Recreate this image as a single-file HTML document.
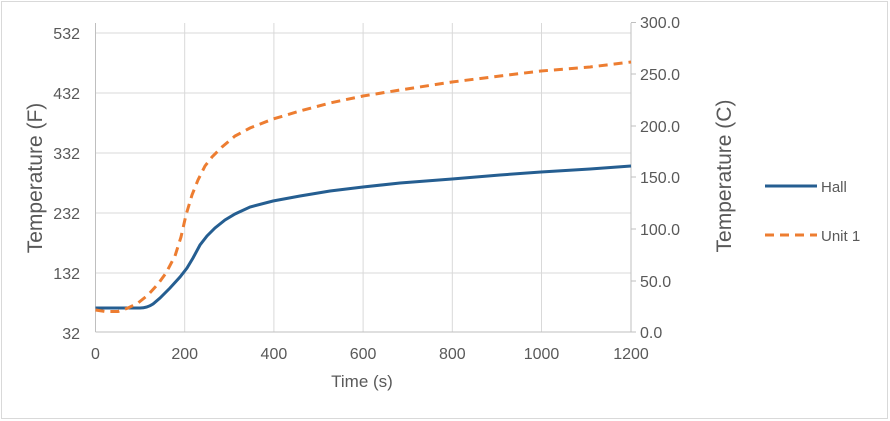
<!DOCTYPE html>
<html><head><style>body{margin:0;background:#fff}svg{display:block;font-family:"Liberation Sans",sans-serif}</style></head><body>
<svg width="890" height="421" viewBox="0 0 890 421">
<rect x="1.5" y="1.5" width="886" height="417" fill="#fff" stroke="#d9d9d9"/>
<g stroke="#d9d9d9" stroke-width="1">
<line x1="95.5" y1="33" x2="631" y2="33"/><line x1="95.5" y1="93" x2="631" y2="93"/><line x1="95.5" y1="153" x2="631" y2="153"/><line x1="95.5" y1="213" x2="631" y2="213"/><line x1="95.5" y1="273" x2="631" y2="273"/>
<line x1="184.7" y1="23" x2="184.7" y2="332"/><line x1="273.9" y1="23" x2="273.9" y2="332"/><line x1="363.1" y1="23" x2="363.1" y2="332"/><line x1="452.3" y1="23" x2="452.3" y2="332"/><line x1="541.5" y1="23" x2="541.5" y2="332"/>
</g>
<g stroke="#bfbfbf" stroke-width="1">
<line x1="95.5" y1="23" x2="95.5" y2="332"/><line x1="631" y1="23" x2="631" y2="332"/><line x1="95.5" y1="332" x2="631" y2="332"/>
<line x1="631" y1="22.5" x2="636" y2="22.5"/><line x1="631" y1="74" x2="636" y2="74"/><line x1="631" y1="126" x2="636" y2="126"/><line x1="631" y1="177" x2="636" y2="177"/><line x1="631" y1="229" x2="636" y2="229"/><line x1="631" y1="281" x2="636" y2="281"/><line x1="631" y1="332" x2="636" y2="332"/>
</g>
<g fill="#595959" font-size="16">
<g text-anchor="end"><text x="80" y="39">532</text><text x="80" y="99">432</text><text x="80" y="159">332</text><text x="80" y="219">232</text><text x="80" y="279">132</text><text x="80" y="339">32</text></g>
<g text-anchor="start"><text x="640" y="28">300.0</text><text x="640" y="80">250.0</text><text x="640" y="132">200.0</text><text x="640" y="183">150.0</text><text x="640" y="235">100.0</text><text x="640" y="287">50.0</text><text x="640" y="338">0.0</text></g>
<g text-anchor="middle"><text x="95.5" y="359">0</text><text x="184.7" y="359">200</text><text x="273.9" y="359">400</text><text x="363.1" y="359">600</text><text x="452.3" y="359">800</text><text x="541.5" y="359">1000</text><text x="631" y="359">1200</text></g>
<text x="362" y="387" text-anchor="middle" font-size="17">Time (s)</text>
<text transform="translate(42,178) rotate(-90)" text-anchor="middle" font-size="21">Temperature (F)</text>
<text transform="translate(731,176) rotate(-90)" text-anchor="middle" font-size="21">Temperature (C)</text>
<text x="821" y="192" font-size="15">Hall</text><text x="821" y="241" font-size="15">Unit 1</text>
</g>
<path d="M95.5,308 L140,308 Q147,308 153,304 L160,298 L170,288 L180,277 L187,268 L193,258 L200,245 L207,236 L215,228 L225,220 L235,214 L250,207 L273,201 L300,196 L330,191 L363,187 L400,183 L452,179 L500,175 L541,172 L590,169 L631,166" fill="none" stroke="#255e91" stroke-width="3"/>
<path d="M95.5,310 L105,311.5 L118,311.5 L128,308 L138,303 L148,295 L158,284 L166,273 L175,256 L181,237 L186,215 L192,195 L198,180 L205,166 L212,157 L222,147 L235,136 L250,128 L273,119 L300,111 L330,103 L363,96 L400,90 L452,82 L500,76 L541,71 L590,67 L631,62" fill="none" stroke="#ed7d31" stroke-width="3" stroke-dasharray="9,6"/>
<line x1="765" y1="186" x2="817" y2="186" stroke="#255e91" stroke-width="3"/>
<line x1="765" y1="235" x2="817" y2="235" stroke="#ed7d31" stroke-width="3" stroke-dasharray="9,6"/>
</svg></body></html>
